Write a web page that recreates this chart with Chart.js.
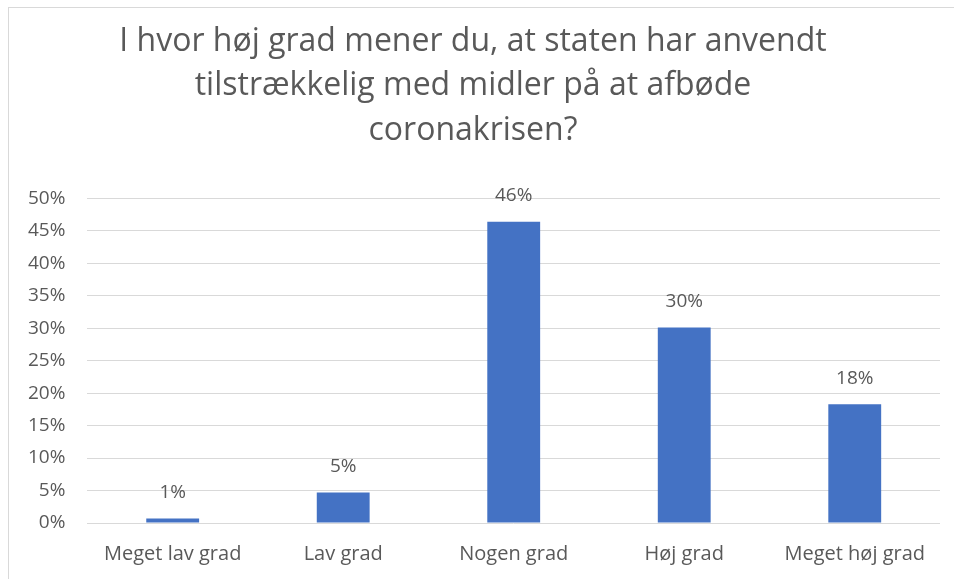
<!DOCTYPE html>
<html>
<head>
<meta charset="utf-8">
<script src="https://cdn.jsdelivr.net/npm/chart.js@4.4.1/dist/chart.umd.min.js"></script>
<style>
  body { margin: 0; background: #fff; overflow: hidden; }
  #frame { position: absolute; left: 8px; top: 7px; width: 1000px; height: 1000px; border: 1px solid #d9d9d9; }
  #wrap { position: absolute; left: 0; top: 0; width: 940px; height: 579px; }
</style>
</head>
<body>
<div id="frame"></div>
<div id="wrap"><canvas id="myChart"></canvas></div>
<script>
const categories = ['Meget lav grad', 'Lav grad', 'Nogen grad', 'Høj grad', 'Meget høj grad'];
const values = [0.7, 4.7, 46.4, 30.1, 18.3]; // percent
const yTicks = [0, 5, 10, 15, 20, 25, 30, 35, 40, 45, 50];
const titleLines = ['I hvor høj grad mener du, at staten har anvendt', 'tilstrækkelig med midler på at afbøde', 'coronakrisen?'];

const grey = '#595959';
const fam = "'Open Sans'";

// value labels above each bar
const barLabels = {
  id: 'barLabels',
  afterDatasetsDraw(chart) {
    const ctx = chart.ctx;
    const meta = chart.getDatasetMeta(0);
    ctx.save();
    ctx.font = '19px ' + fam;
    ctx.fillStyle = grey;
    ctx.textAlign = 'center';
    ctx.textBaseline = 'middle';
    meta.data.forEach((bar, i) => {
      ctx.fillText(Math.round(values[i]) + '%', bar.x, bar.y - 26);
    });
    ctx.restore();
  }
};

new Chart(document.getElementById('myChart'), {
  type: 'bar',
  data: {
    labels: categories,
    datasets: [{
      data: values,
      backgroundColor: '#4472C4',
      barPercentage: 0.31,
      categoryPercentage: 1
    }]
  },
  options: {
    responsive: true,
    maintainAspectRatio: false,
    animation: false,
    layout: { padding: { left: 6, right: 0, bottom: 2 } },
    plugins: {
      legend: { display: false },
      tooltip: { enabled: false },
      title: {
        display: true,
        text: titleLines,
        color: grey,
        font: { family: fam, size: 32, weight: 'normal', lineHeight: 1.4 },
        padding: { top: 19, bottom: 45 }
      }
    },
    scales: {
      x: {
        grid: { display: false },
        border: { display: false },
        ticks: { color: grey, font: { family: fam, size: 20 }, padding: 11, maxRotation: 0 }
      },
      y: {
        min: 0,
        max: 50,
        afterBuildTicks: axis => { axis.ticks = yTicks.map(v => ({ value: v })); },
        grid: { color: '#d9d9d9', drawTicks: false },
        border: { display: false },
        ticks: { color: grey, font: { family: fam, size: 19 }, padding: 22, callback: v => v + '%' }
      }
    }
  },
  plugins: [barLabels]
});
</script>
</body>
</html>
